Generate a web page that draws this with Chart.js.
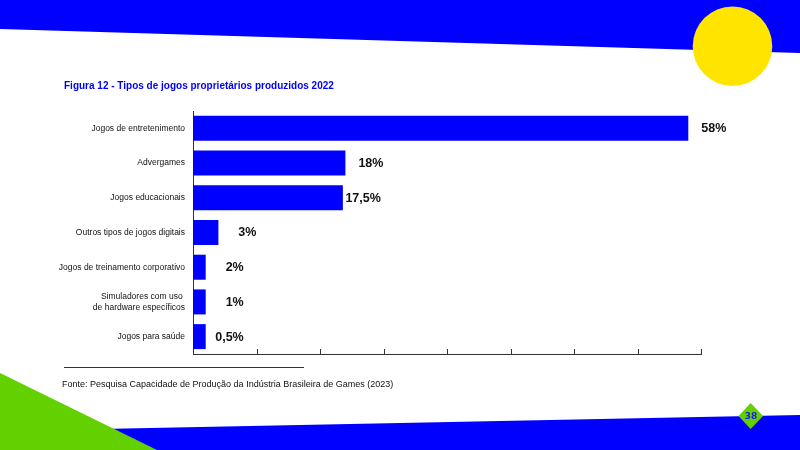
<!DOCTYPE html>
<html>
<head>
<meta charset="utf-8">
<script src="https://cdn.jsdelivr.net/npm/chart.js@4.4.1/dist/chart.umd.min.js"></script>
<style>
html,body{margin:0;padding:0;background:#fff;}
#wrap{position:relative;width:800px;height:450px;overflow:hidden;}
#c{position:absolute;left:0;top:0;}
.title{position:absolute;left:64px;top:81px;font-family:"Liberation Sans",Arial,sans-serif;font-weight:bold;font-size:10px;line-height:10px;color:#0000ff;white-space:nowrap;}
.source{position:absolute;left:62px;top:379px;font-family:"Liberation Sans",Arial,sans-serif;font-size:9px;line-height:10px;color:#111;white-space:nowrap;}
.page{position:absolute;left:738px;top:410px;width:26px;text-align:center;font-family:"DejaVu Sans",sans-serif;font-weight:bold;font-size:9px;line-height:12px;color:#1a1aff;}
</style>
</head>
<body>
<div id="wrap">
<canvas id="c" width="800" height="450"></canvas>
<div class="title">Figura 12 - Tipos de jogos proprietários produzidos 2022</div>
<div class="source">Fonte: Pesquisa Capacidade de Produção da Indústria Brasileira de Games (2023)</div>
<div class="page">38</div>
</div>
<script>
// ---- data ----
const categories = [
  "Jogos de entretenimento",
  "Advergames",
  "Jogos educacionais",
  "Outros tipos de jogos digitais",
  "Jogos de treinamento corporativo",
  ["Simuladores com uso ", "de hardware específicos"],
  "Jogos para saúde"
];
// bar lengths (percent)
const barValues = [58.5, 18, 17.7, 3, 1.5, 1.5, 1.5];
// value labels as printed
const valueLabels = ["58%", "18%", "17,5%", "3%", "2%", "1%", "0,5%"];
const axisMin = 0;
const axisMax = 60;
const axisStep = 7.5;

const BLUE = '#0000ff';
const GREEN = '#63d100';
const YELLOW = '#ffe400';

const decor = {
  id: 'decor',
  beforeDraw(chart) {
    const ctx = chart.ctx;
    ctx.save();
    ctx.fillStyle = '#fff';
    ctx.fillRect(0, 0, 800, 450);
    // top band
    ctx.fillStyle = BLUE;
    ctx.beginPath();
    ctx.moveTo(0, 0); ctx.lineTo(800, 0); ctx.lineTo(800, 53); ctx.lineTo(0, 29);
    ctx.closePath(); ctx.fill();
    // yellow circle
    ctx.fillStyle = YELLOW;
    ctx.beginPath(); ctx.arc(732.5, 46.2, 39.8, 0, Math.PI * 2); ctx.fill();
    // bottom band
    ctx.fillStyle = BLUE;
    ctx.beginPath();
    ctx.moveTo(0, 431); ctx.lineTo(800, 415); ctx.lineTo(800, 450); ctx.lineTo(0, 450);
    ctx.closePath(); ctx.fill();
    // green triangle
    ctx.fillStyle = GREEN;
    ctx.beginPath();
    ctx.moveTo(0, 373); ctx.lineTo(157, 450); ctx.lineTo(0, 450);
    ctx.closePath(); ctx.fill();
    // source rule
    ctx.strokeStyle = '#333'; ctx.lineWidth = 1;
    ctx.beginPath(); ctx.moveTo(64, 367.5); ctx.lineTo(304, 367.5); ctx.stroke();
    // page diamond
    ctx.fillStyle = GREEN;
    ctx.beginPath();
    ctx.moveTo(750.7, 403); ctx.lineTo(763, 416); ctx.lineTo(750.7, 429); ctx.lineTo(738.5, 416);
    ctx.closePath(); ctx.fill();
    ctx.restore();
  }
};

const overlay = {
  id: 'overlay',
  afterDraw(chart) {
    const ctx = chart.ctx;
    const x = chart.scales.x;
    ctx.save();
    ctx.strokeStyle = '#333'; ctx.lineWidth = 1;
    x.ticks.forEach(t => {
      const px = Math.round(x.getPixelForValue(t.value)) + 0.5;
      ctx.beginPath(); ctx.moveTo(px, x.top); ctx.lineTo(px, x.top - 5); ctx.stroke();
    });
    const meta = chart.getDatasetMeta(0);
    ctx.font = 'bold 12.5px "Liberation Sans", Arial, sans-serif';
    ctx.fillStyle = '#111';
    ctx.textAlign = 'right';
    ctx.textBaseline = 'middle';
    meta.data.forEach((bar, i) => {
      ctx.fillText(valueLabels[i], bar.x + 38, bar.y + 0.5);
    });
    ctx.restore();
  }
};

new Chart(document.getElementById('c'), {
  type: 'bar',
  data: {
    labels: categories,
    datasets: [{
      data: barValues,
      backgroundColor: BLUE,
      borderWidth: 0,
      categoryPercentage: 1,
      barPercentage: 0.72
    }]
  },
  options: {
    indexAxis: 'y',
    responsive: false,
    animation: false,
    devicePixelRatio: 1,
    layout: { padding: { left: 0, right: 99, top: 111, bottom: 96 } },
    plugins: { legend: { display: false }, tooltip: { enabled: false }, title: { display: false } },
    scales: {
      x: {
        min: axisMin, max: axisMax,
        ticks: { display: false, stepSize: axisStep },
        grid: { display: false, drawTicks: false },
        border: { display: true, color: '#333', width: 1 },
        afterFit(s) { s.height = 0; }
      },
      y: {
        ticks: {
          color: '#111',
          font: { family: '"Liberation Sans", Arial, sans-serif', size: 8.5, lineHeight: 1.25 },
          padding: 8,
          crossAlign: 'near'
        },
        grid: { display: false, drawTicks: false },
        border: { display: true, color: '#333', width: 1 },
        afterFit(s) { s.width = 193; }
      }
    }
  },
  plugins: [decor, overlay]
});
</script>
</body>
</html>
